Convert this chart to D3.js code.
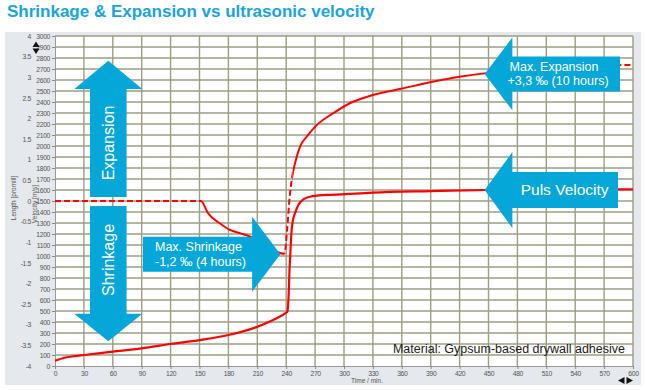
<!DOCTYPE html>
<html>
<head>
<meta charset="utf-8">
<script src="https://cdn.jsdelivr.net/npm/d3@7"></script>
<style>
  body { margin: 0; background: #fff; }
  text { font-family: "Liberation Sans", Arial, sans-serif; }
</style>
</head>
<body>
<svg id="chart"></svg>
<script>
// ultrasonic velocity (m/s) over time (min)
var velocityTime = [0, 10, 20, 30, 60, 90, 120, 150, 180, 210, 230, 240, 241.2, 242.6, 243.3, 244.3, 245.4, 246.7, 249.1, 252.6, 257.8, 264.7, 282, 306, 330, 390, 448, 520, 600];
var velocityValue = [48, 75, 90, 100, 130, 160, 200, 236, 282, 357, 434, 485, 494, 661, 843, 1024, 1206, 1312, 1388, 1464, 1515, 1539, 1555, 1564, 1576, 1590, 1600, 1604, 1606];

// length change (promille) over time (min)
var lengthTime = [0, 50, 100, 151.5, 159, 171, 181.6, 192, 202.4, 216, 226.6, 233.6, 238, 241.2, 243.3, 245.7, 249.1, 254.4, 261.3, 271.7, 289, 306, 330, 361, 392, 420, 448, 500, 550, 588, 600];
var lengthValue = [0, 0, 0, 0, -0.3, -0.54, -0.7, -0.78, -0.86, -1.02, -1.18, -1.26, -1.28, -0.62, 0.02, 0.51, 0.91, 1.32, 1.56, 1.84, 2.13, 2.37, 2.57, 2.73, 2.89, 3.01, 3.1, 3.2, 3.26, 3.3, 3.3];

var timeTicks = d3.range(0, 601, 30);
var velocityTicks = d3.range(0, 3001, 100);
var lengthTicks = d3.range(-4, 4.01, 0.5);

// parts of the length curve drawn dashed
var dashedRanges = [[0, 151.5], [238, 246.5], [560, 600]];

var width = 645,
    height = 390;

var svg = d3.select("#chart")
    .attr("width", width)
    .attr("height", height);

var x = d3.scaleLinear().domain([0, 600]).range([55, 633]);
var y = d3.scaleLinear().domain([0, 3000]).range([366, 36]);
var yLen = d3.scaleLinear().domain([-4, 4]).range([366, 36]);

// title
svg.append("text")
    .attr("x", 7)
    .attr("y", 17)
    .attr("font-size", 17)
    .attr("font-weight", "bold")
    .attr("fill", "#19a4db")
    .text("Shrinkage & Expansion vs ultrasonic velocity");

// grey panel + white plot area
svg.append("rect")
    .attr("x", 5).attr("y", 32)
    .attr("width", 636).attr("height", 353)
    .attr("fill", "#e5e8ec");

svg.append("rect")
    .attr("x", x(0)).attr("y", y(3000))
    .attr("width", x(600) - x(0)).attr("height", y(0) - y(3000))
    .attr("fill", "#fff");

// grid
var grid = svg.append("g").attr("stroke", "#9d9d84").attr("stroke-width", 1.4);
grid.selectAll(".h")
    .data(velocityTicks.filter(function(d) { return d > 0; }))
    .enter().append("line")
    .attr("x1", x(0)).attr("x2", x(600))
    .attr("y1", function(d) { return y(d); })
    .attr("y2", function(d) { return y(d); });
grid.selectAll(".v")
    .data(timeTicks.filter(function(d) { return d > 0; }))
    .enter().append("line")
    .attr("y1", y(0)).attr("y2", y(3000))
    .attr("x1", function(d) { return x(d); })
    .attr("x2", function(d) { return x(d); });

// axes
var xAxis = svg.append("g")
    .attr("transform", "translate(0," + y(0) + ")")
    .call(d3.axisBottom(x).tickValues(timeTicks).tickSize(3).tickPadding(2).tickFormat(String));

var vAxis = svg.append("g")
    .attr("transform", "translate(" + x(0) + ",0)")
    .call(d3.axisLeft(y).tickValues(velocityTicks).tickSize(3).tickPadding(2).tickFormat(String));

var lAxis = svg.append("g")
    .attr("transform", "translate(31,0)")
    .call(d3.axisLeft(yLen).tickValues(lengthTicks).tickSize(0).tickPadding(0).tickFormat(String));
lAxis.select(".domain").remove();

[xAxis, vAxis, lAxis].forEach(function(a) {
    a.selectAll("text").attr("font-size", 6.8).attr("fill", "#555")
        .attr("letter-spacing", -0.35)
        .attr("font-family", "Liberation Sans, Arial, sans-serif");
    a.selectAll("line").attr("stroke", "#888");
    a.select(".domain").attr("stroke", "#999");
});

// axis titles
svg.append("text")
    .attr("transform", "translate(16,198) rotate(-90)")
    .attr("text-anchor", "middle")
    .attr("font-size", 6.5).attr("fill", "#555")
    .text("Length [promill]");
svg.append("text")
    .attr("transform", "translate(36.5,204) rotate(-90)")
    .attr("text-anchor", "middle")
    .attr("font-size", 6.5).attr("fill", "#555")
    .text("Velocity [m/s]");
svg.append("text")
    .attr("x", 367).attr("y", 383)
    .attr("text-anchor", "middle")
    .attr("font-size", 6.5).attr("fill", "#555")
    .text("Time / min.");

// little scroll arrows
svg.append("path").attr("d", "M36,41.5 L39.5,47 L32.5,47 Z M36,54 L39.5,48.5 L32.5,48.5 Z").attr("fill", "#111");
svg.append("path").attr("d", "M618,380.5 L624.5,377 L624.5,384 Z M633,380.5 L626.5,377 L626.5,384 Z").attr("fill", "#111");

// curves
var velocityLine = d3.line()
    .x(function(d) { return x(d[0]); })
    .y(function(d) { return y(d[1]); })
    .curve(d3.curveMonotoneX);

var lengthLine = d3.line()
    .x(function(d) { return x(d[0]); })
    .y(function(d) { return yLen(d[1]); })
    .curve(d3.curveMonotoneX);

var velocityData = d3.zip(velocityTime, velocityValue);
var lengthData = d3.zip(lengthTime, lengthValue);

// clip paths: solid parts vs dashed parts of the length curve
var defs = svg.append("defs");
var clipDash = defs.append("clipPath").attr("id", "clipDash");
dashedRanges.forEach(function(r) {
    clipDash.append("rect")
        .attr("x", x(r[0])).attr("y", 0)
        .attr("width", x(r[1]) - x(r[0])).attr("height", height);
});
var solidRanges = [];
var start = 0;
dashedRanges.forEach(function(r) {
    if (r[0] > start) solidRanges.push([start, r[0]]);
    start = r[1];
});
if (start < 600) solidRanges.push([start, 600]);
var clipSolid = defs.append("clipPath").attr("id", "clipSolid");
solidRanges.forEach(function(r) {
    clipSolid.append("rect")
        .attr("x", x(r[0])).attr("y", 0)
        .attr("width", x(r[1]) - x(r[0])).attr("height", height);
});

svg.append("path")
    .datum(lengthData)
    .attr("d", lengthLine)
    .attr("fill", "none")
    .attr("stroke", "#ff0000")
    .attr("stroke-width", 2)
    .attr("clip-path", "url(#clipSolid)");

svg.append("path")
    .datum(lengthData)
    .attr("d", lengthLine)
    .attr("fill", "none")
    .attr("stroke", "#ff0000")
    .attr("stroke-width", 2)
    .attr("stroke-dasharray", "6,3")
    .attr("clip-path", "url(#clipDash)");

svg.append("path")
    .datum(velocityData)
    .attr("d", velocityLine)
    .attr("fill", "none")
    .attr("stroke", "#ff0000")
    .attr("stroke-width", 2.2);

// block arrows
var blue = "#05a6d8";

function hArrow(tipX, tipY, headLen, headHalf, shaftHalf, endX) {
    var dir = endX > tipX ? 1 : -1,
        base = tipX + dir * headLen;
    return [[tipX, tipY], [base, tipY - headHalf], [base, tipY - shaftHalf], [endX, tipY - shaftHalf],
            [endX, tipY + shaftHalf], [base, tipY + shaftHalf], [base, tipY + headHalf]];
}

function vArrow(tipX, tipY, headLen, headHalf, shaftHalf, endY) {
    return hArrow(tipY, tipX, headLen, headHalf, shaftHalf, endY).map(function(p) { return [p[1], p[0]]; });
}

var arrows = [
    vArrow(108.3, yLen(3.4), 28.3, 34, 18.3, yLen(0.1)),
    vArrow(108.3, yLen(-3.4), 27.4, 34, 18.3, yLen(-0.12)),
    hArrow(x(234), yLen(-1.29), 28.3, 37.5, 17.5, 143),
    hArrow(x(446), yLen(3.08), 27.7, 36.4, 17.5, 620),
    hArrow(x(446), y(1600), 27.7, 38, 18, 618)
];

svg.selectAll(".arrow")
    .data(arrows)
    .enter().append("polygon")
    .attr("class", "arrow")
    .attr("points", function(d) { return d.join(" "); })
    .attr("fill", blue);

// arrow labels
function label(txt, tx, ty, size, anchor, rot) {
    svg.append("text")
        .attr("transform", "translate(" + tx + "," + ty + ")" + (rot ? " rotate(" + rot + ")" : ""))
        .attr("text-anchor", anchor)
        .attr("font-size", size)
        .attr("fill", "#fff")
        .text(txt);
}

label("Expansion", 113.5, 143, 16, "middle", -90);
label("Shrinkage", 113.5, 260, 16, "middle", -90);
label("Max. Shrinkage", 155, 251, 12.5, "start");
label("-1,2 \u2030 (4 hours)", 155, 266, 12.5, "start");
label("Max. Expansion", 554, 70.7, 12.5, "middle");
label("+3,3 \u2030 (10 hours)", 558, 85, 12.5, "middle");
label("Puls Velocity", 520.7, 195, 15.5, "start");

svg.append("text")
    .attr("x", 625).attr("y", 353.3)
    .attr("text-anchor", "end")
    .attr("font-size", 12.5)
    .attr("fill", "#1a1a1a")
    .text("Material: Gypsum-based drywall adhesive");
</script>
</body>
</html>
